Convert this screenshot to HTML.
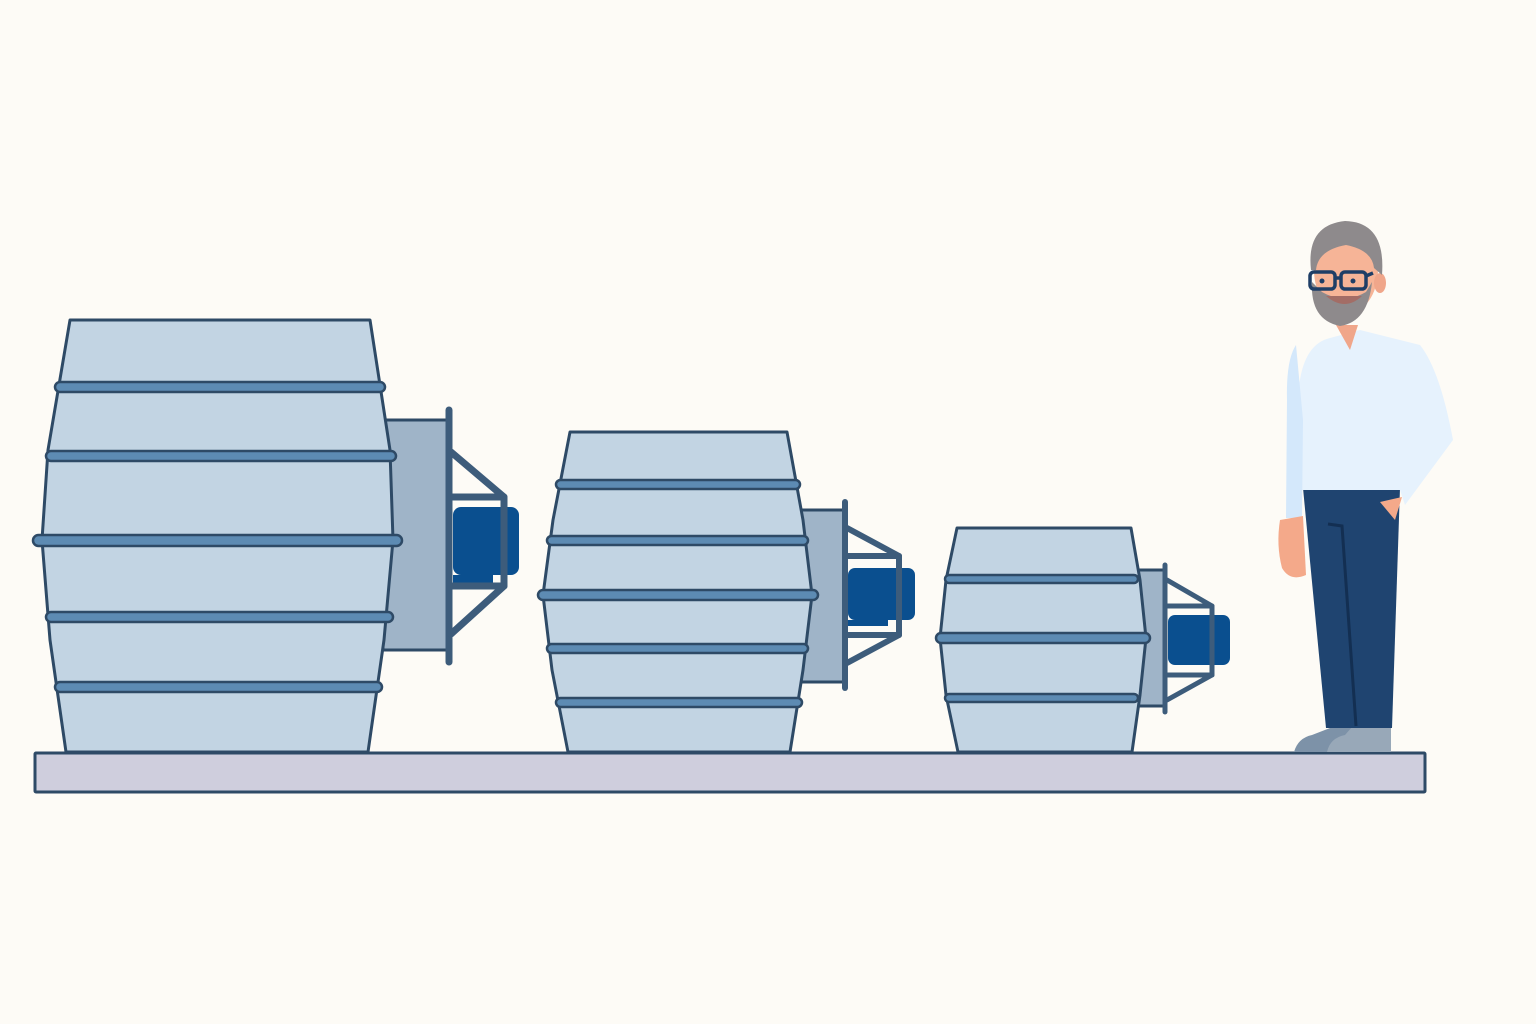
<!DOCTYPE html>
<html><head><meta charset="utf-8"><style>html,body{margin:0;padding:0;background:#fdfbf6}svg{display:block}</style></head>
<body>
<svg width="1536" height="1024" viewBox="0 0 1536 1024" xmlns="http://www.w3.org/2000/svg">
<rect width="1536" height="1024" fill="#fdfbf6"/>
<g stroke="#2e4a66" stroke-width="3" stroke-linejoin="round">
<rect x="383" y="420" width="64" height="230" fill="#9fb4c8"/>
<path d="M70,320 L370,320 L390,450 L393,540 L384,640 L368,752 L66,752 L50,640 L42,540 L48,450 Z" fill="#c2d4e3"/>
<g fill="#5d8bb3" stroke-width="2.5">
<rect x="55" y="382" width="330" height="10" rx="5"/>
<rect x="46" y="451" width="350" height="10" rx="5"/>
<rect x="33" y="535" width="369" height="11" rx="5.5"/>
<rect x="46" y="612" width="347" height="10" rx="5"/>
<rect x="55" y="682" width="327" height="10" rx="5"/>
</g>
<rect x="453" y="507" width="66" height="68" rx="8" fill="#0a4f8f" stroke="none"/>
<rect x="453" y="575" width="40" height="8" fill="#0a4f8f" stroke="none"/>
<g fill="none" stroke="#3d5c7b" stroke-width="7" stroke-linecap="round">
<line x1="449" y1="410" x2="449" y2="662"/>
<path d="M451,452 L504,497 L504,586 L451,634"/>
<line x1="451" y1="497" x2="504" y2="497"/>
<line x1="451" y1="586" x2="504" y2="586"/>
</g>
<rect x="800" y="510" width="45" height="172" fill="#9fb4c8"/>
<path d="M570,432 L787,432 L803,520 L812,595 L803,670 L790,752 L568,752 L552,670 L543,595 L553,520 Z" fill="#c2d4e3"/>
<g fill="#5d8bb3" stroke-width="2.5">
<rect x="556" y="480" width="244" height="9" rx="4.5"/>
<rect x="547" y="536" width="261" height="9" rx="4.5"/>
<rect x="538" y="590" width="280" height="10" rx="5"/>
<rect x="547" y="644" width="261" height="9" rx="4.5"/>
<rect x="556" y="698" width="246" height="9" rx="4.5"/>
</g>
<rect x="848" y="568" width="67" height="52" rx="7" fill="#0a4f8f" stroke="none"/>
<rect x="848" y="620" width="40" height="6" fill="#0a4f8f" stroke="none"/>
<g fill="none" stroke="#3d5c7b" stroke-width="6" stroke-linecap="round">
<line x1="845" y1="502" x2="845" y2="688"/>
<path d="M847,528 L899,556 L899,635 L847,663"/>
<line x1="847" y1="556" x2="899" y2="556"/>
<line x1="847" y1="635" x2="899" y2="635"/>
</g>
<rect x="1135" y="570" width="30" height="136" fill="#9fb4c8"/>
<path d="M957,528 L1131,528 L1140,580 L1146,638 L1140,695 L1132,752 L958,752 L946,695 L940,638 L946,580 Z" fill="#c2d4e3"/>
<g fill="#5d8bb3" stroke-width="2.5">
<rect x="945" y="575" width="193" height="8" rx="4"/>
<rect x="936" y="633" width="214" height="10" rx="5"/>
<rect x="945" y="694" width="193" height="8" rx="4"/>
</g>
<rect x="1168" y="615" width="62" height="50" rx="7" fill="#0a4f8f" stroke="none"/>
<g fill="none" stroke="#3d5c7b" stroke-width="5" stroke-linecap="round">
<line x1="1165" y1="565" x2="1165" y2="712"/>
<path d="M1167,580 L1212,606 L1212,675 L1167,700"/>
<line x1="1167" y1="606" x2="1212" y2="606"/>
<line x1="1167" y1="675" x2="1212" y2="675"/>
</g>
<rect x="35" y="753" width="1390" height="39" fill="#cfcedd" rx="1"/>
</g>
<g>
<path d="M1294,752 Q1298,738 1312,735 L1330,728 L1355,728 L1352,752 Z" fill="#7d92a8"/>
<path d="M1327,752 Q1330,738 1345,735 L1352,727 L1391,727 L1391,752 Z" fill="#98a8b8"/>
<path d="M1303,488 L1400,488 L1392,728 L1326,728 Z" fill="#1f4470"/>
<path d="M1328,524 L1342,526 L1356,726" fill="none" stroke="#132f52" stroke-width="3"/>
<path d="M1302,500 L1298,400 Q1300,345 1330,338 L1360,330 L1420,345 Q1440,370 1453,440 L1405,505 L1400,490 L1302,490 Z" fill="#e6f2fd"/>
<path d="M1296,345 Q1286,360 1287,400 L1286,518 L1302,518 L1303,420 Z" fill="#d4e8fb"/>
<path d="M1280,520 L1303,516 L1306,575 Q1290,582 1282,568 Q1276,545 1280,520 Z" fill="#f4a98a"/>
<path d="M1380,502 L1402,497 L1395,520 Z" fill="#f4a98a"/>
<path d="M1336,325 L1358,325 L1350,350 Z" fill="#f0a68a"/>
<ellipse cx="1346" cy="270" rx="32" ry="44" fill="#f6b497"/>
<ellipse cx="1380" cy="283" rx="6" ry="10" fill="#f0a68a"/>
<path d="M1311,270 Q1306,225 1345,221 Q1386,222 1382,275 L1374,268 Q1372,250 1346,245 Q1318,250 1316,270 Z" fill="#8e8a8c"/>
<path d="M1312,282 Q1310,320 1340,326 Q1368,322 1372,282 L1366,292 Q1352,300 1346,296 Q1336,300 1322,292 Z" fill="#8e8a8c"/>
<path d="M1326,296 Q1345,312 1362,296 Z" fill="#a36d66"/>
<g fill="none" stroke="#1f3e66" stroke-width="3.5">
<rect x="1310" y="272" width="25" height="17" rx="4"/>
<rect x="1341" y="272" width="25" height="17" rx="4"/>
<line x1="1335" y1="278" x2="1341" y2="278"/>
<line x1="1366" y1="276" x2="1373" y2="273"/>
</g>
<circle cx="1322" cy="281" r="2.5" fill="#1f3e66"/>
<circle cx="1353" cy="281" r="2.5" fill="#1f3e66"/>
</g>
</svg>
</body></html>
